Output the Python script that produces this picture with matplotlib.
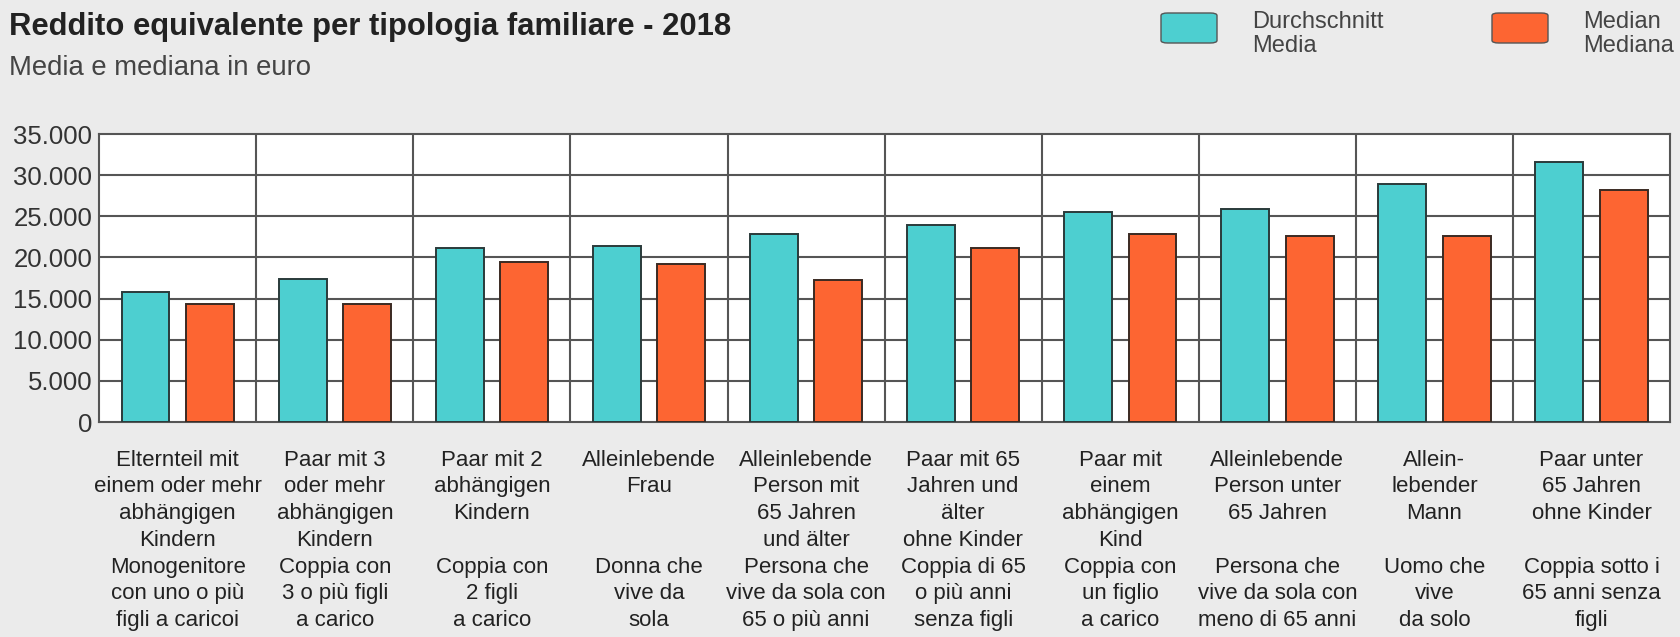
import numpy as np
import matplotlib.pyplot as plt
from matplotlib.patches import FancyBboxPatch

plt.rcParams['font.family'] = ['Liberation Sans', 'DejaVu Sans']

# data (euro)
labels = [
    "Elternteil mit\neinem oder mehr\nabhängigen\nKindern\nMonogenitore\ncon uno o più\nfigli a caricoi",
    "Paar mit 3\noder mehr\nabhängigen\nKindern\nCoppia con\n3 o più figli\na carico",
    "Paar mit 2\nabhängigen\nKindern\n\nCoppia con\n2 figli\na carico",
    "Alleinlebende\nFrau\n\n\nDonna che\nvive da\nsola",
    "Alleinlebende\nPerson mit\n65 Jahren\nund älter\nPersona che\nvive da sola con\n65 o più anni",
    "Paar mit 65\nJahren und\nälter\nohne Kinder\nCoppia di 65\no più anni\nsenza figli",
    "Paar mit\neinem\nabhängigen\nKind\nCoppia con\nun figlio\na carico",
    "Alleinlebende\nPerson unter\n65 Jahren\n\nPersona che\nvive da sola con\nmeno di 65 anni",
    "Allein-\nlebender\nMann\n\nUomo che\nvive\nda solo",
    "Paar unter\n65 Jahren\nohne Kinder\n\nCoppia sotto i\n65 anni senza\nfigli",
]
media = [15800, 17400, 21100, 21400, 22800, 23900, 25550, 25900, 28900, 31600]
mediana = [14300, 14400, 19500, 19200, 17300, 21100, 22850, 22550, 22650, 28250]
yticks = [0, 5000, 10000, 15000, 20000, 25000, 30000, 35000]
ytick_labels = ["0", "5.000", "10.000", "15.000", "20.000", "25.000", "30.000", "35.000"]

teal = "#4dcfd0"
orange = "#fd6532"
bg = "#ebebeb"
grid = "#555555"

fig = plt.figure(figsize=(16.81, 6.37), dpi=100, facecolor=bg)
ax = fig.add_axes([0.059, 0.3375, 0.9345, 0.4521])
ax.set_facecolor("white")

x = np.arange(len(labels))
w = 0.305
ax.bar(x - 0.205, media, w, color=teal, edgecolor="#2a3a3a", linewidth=1.4, zorder=3)
ax.bar(x + 0.205, mediana, w, color=orange, edgecolor="#3a2a22", linewidth=1.4, zorder=3)

ax.set_xlim(-0.5, len(labels) - 0.5)
ax.set_ylim(0, 35000)
ax.set_yticks(yticks, ytick_labels)
ax.set_xticks(x, labels)
ax.tick_params(axis="y", length=0, pad=5, labelsize=18.5, labelcolor="#333333")
ax.tick_params(axis="x", length=0, pad=20, labelsize=16, labelcolor="#222222")
for t in ax.get_xticklabels():
    t.set_linespacing(1.355)

# grid: horizontal every 5000, vertical between groups
for yv in yticks[1:-1]:
    ax.axhline(yv, color=grid, lw=1.5, zorder=1)
for xv in x[:-1] + 0.5:
    ax.axvline(xv, color=grid, lw=1.5, zorder=1)
for s in ax.spines.values():
    s.set_color(grid)
    s.set_linewidth(1.5)

fig.text(0.0055, 0.957, "Reddito equivalente per tipologia familiare - 2018",
         fontsize=22.3, fontweight="bold", color="#222222", va="center")
fig.text(0.0055, 0.893, "Media e mediana in euro", fontsize=19.8, color="#444444", va="center")

# legend in the top right
for x0, c, txt in [(1161, teal, "Durchschnitt\nMedia"), (1492, orange, "Median\nMediana")]:
    fig.patches.append(FancyBboxPatch((x0 / 1681, 1 - 43 / 637), 56 / 1681, 30 / 637,
                                      boxstyle="round,pad=0,rounding_size=0.004",
                                      transform=fig.transFigure, facecolor=c,
                                      edgecolor="#555555", linewidth=1.0))
    fig.text((x0 + 91) / 1681, 1 - 34 / 637, txt, fontsize=17, color="#444444",
             va="center", linespacing=1.1)

fig.savefig("out.png", dpi=100, facecolor=bg)
